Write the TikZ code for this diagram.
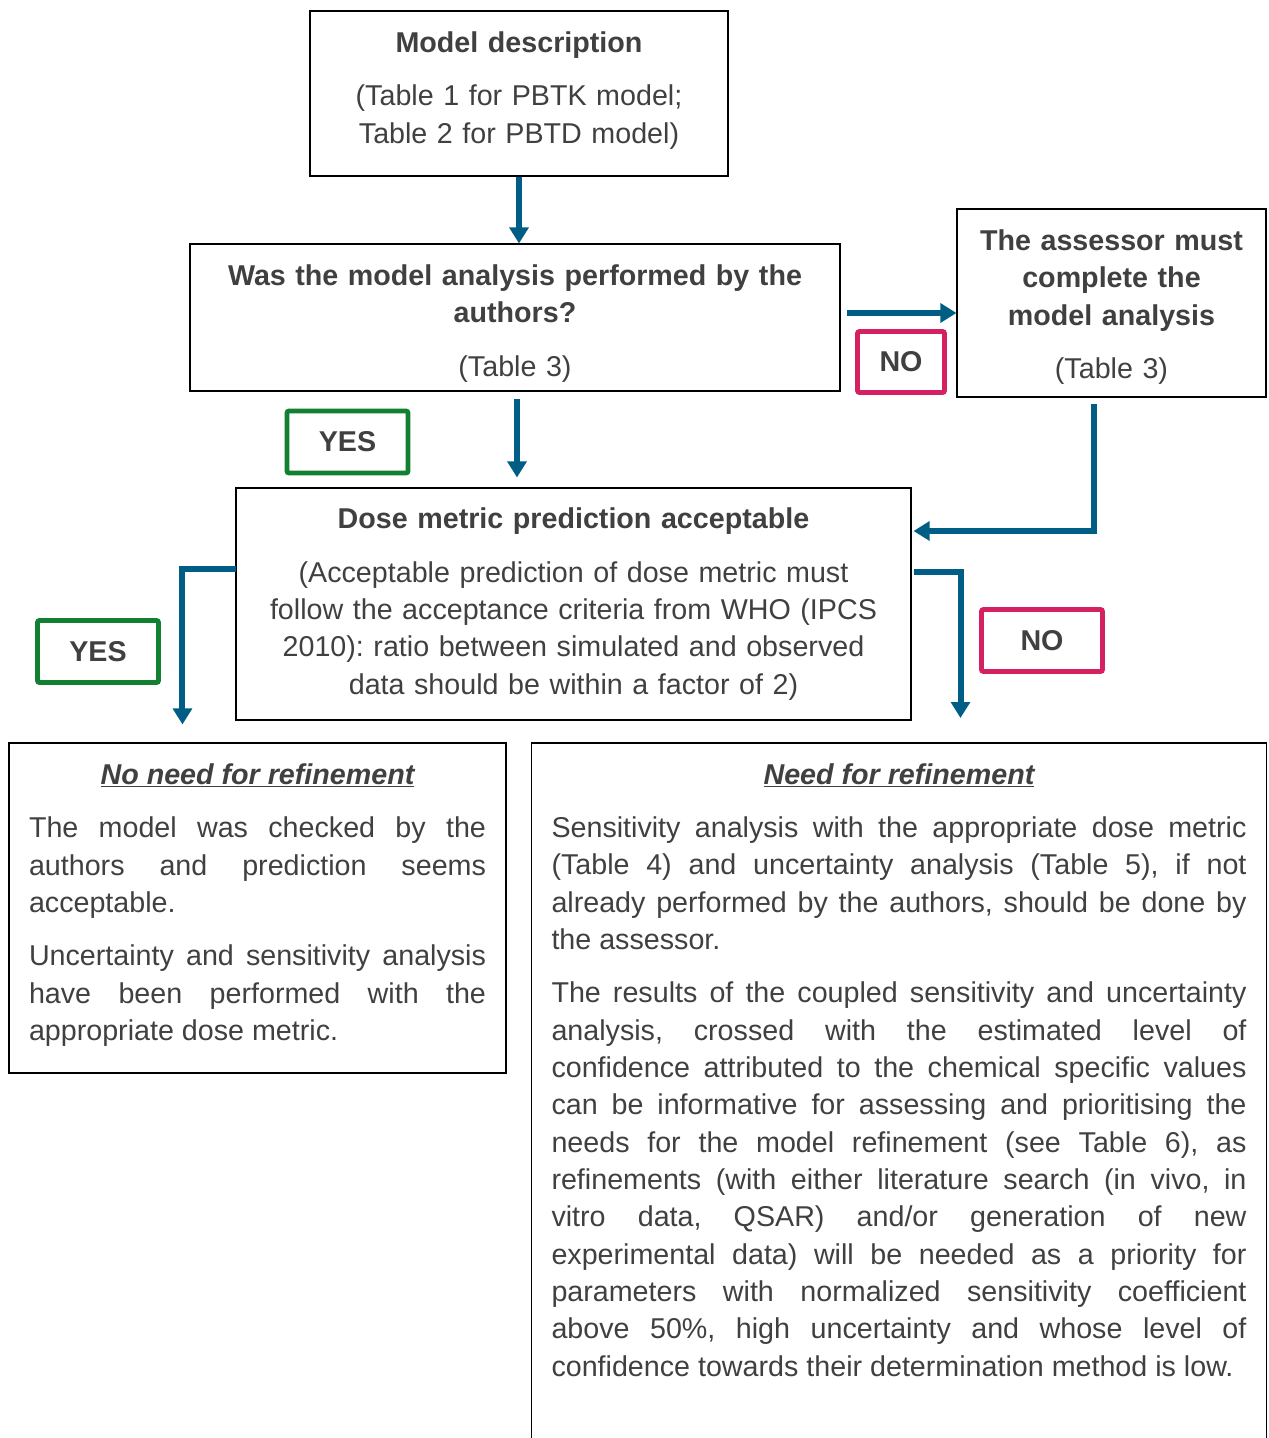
\documentclass[tikz,border=0pt]{standalone}
\usepackage{fontspec}
\setmainfont{Liberation Sans}
\usetikzlibrary{positioning,calc,arrows.meta}
\definecolor{flowblue}{RGB}{0,94,134}
\definecolor{nored}{RGB}{213,33,98}
\definecolor{yesgreen}{RGB}{17,128,48}
\definecolor{txtgray}{RGB}{64,64,64}
\hyphenpenalty=10000
\frenchspacing

\begin{document}
\begin{tikzpicture}[x=0.75pt,y=-0.75pt,
        every node/.style={font=\fontsize{21.5}{28}\selectfont},
        box/.style={draw,line width=0.8pt,text=txtgray,inner xsep=6pt,align=center},
        textbox/.style={box,align=justify},
        flow/.style={draw=flowblue,line width=4.5pt,-{Triangle[width=14pt,length=12pt]}},
        yes/.style={draw=yesgreen,line width=3.6pt,rounded corners=1.5pt,text=txtgray,minimum width=90.75pt,minimum height=46.5pt},
        no/.style={yes,draw=nored}]
        \useasboundingbox (0,0) rectangle (1268,1438);

        \node[box,text width=301.5pt,minimum height=123.75pt] (desc) at (519,93.5)
            {\textbf{Model description}\\[12pt] (Table 1 for PBTK model;\\ Table 2 for PBTD model)\rule[-9pt]{0pt}{9pt}};
        \node[box,text width=475.5pt,minimum height=110.25pt] (q) at (515,317.5)
            {\rule{0pt}{24.5pt}\textbf{Was the model analysis performed by the\\ authors?}\\[12pt] (Table 3)};
        \node[box,text width=219.75pt,minimum height=141pt] (as) at (1111.5,303)
            {\rule{0pt}{21.5pt}\textbf{The assessor must\\ complete the\\ model analysis}\\[12pt] (Table 3)};
        \node[box,text width=494.25pt,minimum height=174pt] (dose) at (573.5,604)
            {\textbf{Dose metric prediction acceptable}\\[12pt]
            (Acceptable prediction of dose metric must\\ follow the acceptance criteria from WHO (IPCS\\
            2010): ratio between simulated and observed\\ data should be within a factor of 2)};

        \node[textbox,inner xsep=15pt,text width=342.75pt,minimum height=247.5pt] (nonee) at (257.5,908)
            {{\centering\textbf{\textit{\underline{No need for refinement}}}\par}\vspace{12pt}
            The model was checked by the\linebreak authors and prediction seems\linebreak acceptable.\par\vspace{12pt}
            Uncertainty and sensitivity analysis\linebreak have been performed with the\linebreak appropriate dose metric.\rule[-9pt]{0pt}{9pt}};
        \node[textbox,draw=none,inner xsep=14.6pt,inner ysep=15pt,text width=521.25pt,anchor=north] (need) at (899,743)
            {{\centering\textbf{\textit{\underline{Need for refinement}}}\par}\vspace{12pt}
            Sensitivity analysis with the appropriate dose metric\linebreak (Table 4) and uncertainty analysis (Table 5), if not\linebreak
            already performed by the authors, should be done by\linebreak the assessor.\par\vspace{12pt}
            The results of the coupled sensitivity and uncertainty\linebreak analysis, crossed with the estimated level of\linebreak
            confidence attributed to the chemical specific values\linebreak can be informative for assessing and prioritising the\linebreak
            needs for the model refinement (see Table 6), as\linebreak refinements (with either literature search (in vivo, in\linebreak
            vitro data, QSAR) and/or generation of new\linebreak experimental data) will be needed as a priority for\linebreak
            parameters with normalized sensitivity coefficient\linebreak above 50\%, high uncertainty and whose level of\linebreak
            confidence towards their determination method is low.};
        \coordinate (pagebottom) at (0,1440);
        \draw[line width=0.8pt] (need.north west |- pagebottom) -- (need.north west)
            -- (need.north east) -- (need.north east |- pagebottom);

        % labels
        \node[yes] (yes1) at (347.5,442) {\textbf{YES}};
        \node[yes] (yes2) at (98,651.5) {\textbf{YES}};
        \node[no,minimum width=65.25pt,minimum height=45.75pt] (no1) at (901,362) {\textbf{NO}};
        \node[no] (no2) at (1042,640.5) {\textbf{NO}};

        % arrows
        \draw[flow] (desc.south) -- (q.north -| desc.south);
        \draw[flow] ($(q.east)+(6,-4.5)$) -- ($(q.east -| as.west)+(0,-4.5)$);
        \draw[flow] ($(q.south)+(2,7)$) -- ($(q.south |- dose.north)+(2,-10)$);
        \draw[flow] ($(as.south)+(-17.5,6)$) |- ($(dose.east)+(2,-73)$);
        \draw[flow] ($(dose.west)+(1,-35)$) -| ($(nonee.north west)+(174,-18)$);
        \draw[flow] ($(dose.east)+(2,-32)$) -| ($(need.north west)+(429,-25)$);
    \end{tikzpicture}
\end{document}
